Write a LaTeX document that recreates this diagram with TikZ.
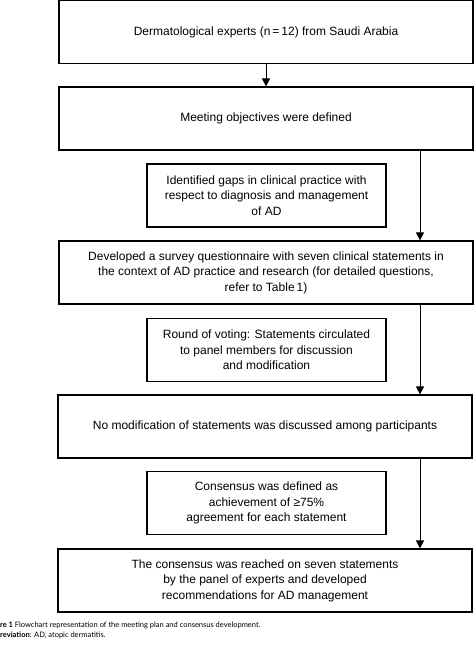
\documentclass[tikz,border=0pt]{standalone}
\usepackage{fontspec}
\setmainfont{Liberation Sans}
\newfontfamily\capfont{Lato}
\usetikzlibrary{arrows.meta,positioning}

\tikzset{
  widebox/.style={
    draw,
    line width = 1.2pt,
    minimum width = 414pt,
    minimum height = 63pt,
    align = center,
    font = \fontsize{12}{15.4}\selectfont
  },
  notebox/.style={
    draw,
    line width = 1.2pt,
    minimum width = 239pt,
    minimum height = 63pt,
    align = center,
    font = \fontsize{12}{15.4}\selectfont
  },
  flow/.style={
    line width = 1pt,
    -{Triangle[width=8pt,length=8pt]}
  },
  captext/.style={
    anchor = west,
    inner sep = 0pt,
    font = \capfont\fontsize{7.5}{8}\selectfont
  }
}

\begin{document}
\begin{tikzpicture}[x=1pt,y=-1pt]
        \useasboundingbox (0,0) rectangle (474,646);

        % main column
        \node[widebox] (experts) at (266,32) {Dermatological experts (n\,=\,12) from Saudi Arabia};
        \node[widebox] (objectives) at (266,118.5) {Meeting objectives were defined};
        \node[widebox] (survey) at (266,272.5) {Developed a survey questionnaire with seven clinical statements in\\
          the context of AD practice and research (for detailed questions,\\
          refer to Table\,1)};
        \node[widebox] (nomod) at (265,426.5) {No modification of statements was discussed among participants};
        \node[widebox] (reached) at (265,580.5) {The consensus was reached on seven statements\\
          by the panel of experts and developed\\
          recommendations for AD management};

        % side notes
        \node[notebox] (gaps) at (266.5,195.5) {Identified gaps in clinical practice with\\
          respect to diagnosis and management\\
          of AD};
        \node[notebox] (voting) at (266.5,350) {Round of voting: Statements circulated\\
          to panel members for discussion\\
          and modification};
        \node[notebox] (define) at (266.5,503) {Consensus was defined as\\
          achievement of ≥75\%\\
          agreement for each statement};

        % arrows
        \draw[flow] (experts) -- (objectives);
        \draw[flow] (objectives.south -| 420,0) -- (survey.north -| 420,0);
        \draw[flow] (survey.south -| 420,0) -- (nomod.north -| 420,0);
        \draw[flow] (nomod.south -| 420,0) -- (reached.north -| 420,0);

        % caption
        \node[captext] (cap1) at (0,625) {\textbf{re 1} Flowchart representation of the meeting plan and consensus development.};
        \node[captext] (cap2) at (0,635) {\textbf{reviation}: AD, atopic dermatitis.};
\end{tikzpicture}
\end{document}
